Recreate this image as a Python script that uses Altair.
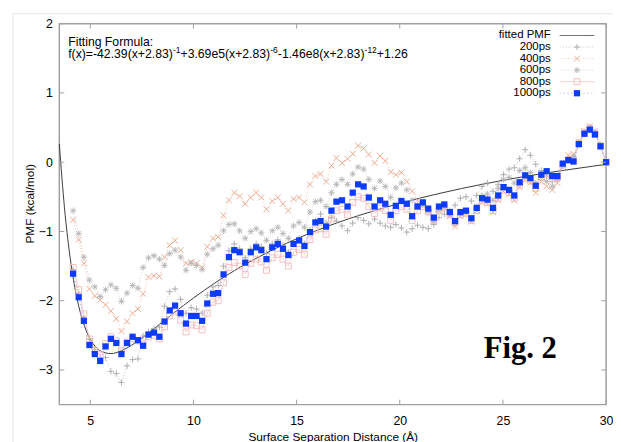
import altair as alt
import pandas as pd

# ---------------- data ----------------
distance = [4.17, 4.44, 4.69, 4.96, 5.22, 5.48, 5.74, 6.00, 6.26, 6.51,
            6.78, 7.05, 7.31, 7.56, 7.82, 8.09, 8.35, 8.60, 8.85, 9.11,
            9.38, 9.64, 9.89, 10.15, 10.42, 10.67, 10.95, 11.20, 11.46, 11.72,
            11.98, 12.24, 12.51, 12.78, 13.04, 13.29, 13.54, 13.82, 14.09, 14.34,
            14.60, 14.85, 15.12, 15.38, 15.65, 15.91, 16.16, 16.43, 16.69, 16.93,
            17.20, 17.47, 17.72, 17.98, 18.25, 18.50, 18.78, 19.05, 19.30, 19.56,
            19.81, 20.08, 20.34, 20.60, 20.86, 21.12, 21.38, 21.65, 21.90, 22.16,
            22.43, 22.68, 22.94, 23.21, 23.47, 23.73, 23.99, 24.25, 24.52, 24.77,
            25.03, 25.30, 25.55, 25.81, 26.08, 26.33, 26.59, 26.86, 27.12, 27.39,
            27.64, 27.90, 28.17, 28.42, 28.68, 28.95, 29.21, 29.46, 29.73, 30.00]

pmf_200 = [-1.55, -1.90, -2.25, -2.55, -2.70, -2.82, -2.82, -3.02, -3.05, -3.18,
           -2.94, -2.85, -2.84, -2.51, -2.45, -2.40, -2.38, -2.08, -1.87, -1.83,
           -1.98, -2.18, -2.10, -2.12, -2.18, -1.92, -1.80, -1.78, -1.50, -1.28,
           -1.18, -1.25, -1.38, -1.25, -1.18, -1.22, -1.32, -1.18, -1.12, -1.20,
           -1.30, -1.15, -1.10, -1.18, -0.98, -0.85, -0.75, -0.88, -0.80, -0.85,
           -0.92, -0.99, -0.88, -0.80, -0.84, -0.89, -0.82, -0.88, -0.92, -0.94,
           -0.90, -0.95, -1.01, -0.96, -0.91, -0.94, -0.96, -0.90, -0.80, -0.75,
           -0.70, -0.62, -0.52, -0.50, -0.56, -0.48, -0.35, -0.30, -0.42, -0.32,
           -0.18, -0.10, -0.08, 0.05, 0.18, 0.10, -0.03, -0.12, -0.20, -0.28,
           -0.22, -0.05, 0.04, 0.06, 0.28, 0.43, 0.50, 0.44, 0.25, 0.00]

pmf_400 = [-0.83, -1.12, -1.46, -1.83, -1.93, -1.99, -2.06, -2.15, -2.26, -2.44,
           -2.30, -2.18, -2.12, -1.90, -1.66, -1.64, -1.65, -1.37, -1.20, -1.13,
           -1.27, -1.46, -1.44, -1.46, -1.52, -1.22, -1.10, -1.08, -0.77, -0.55,
           -0.44, -0.49, -0.60, -0.51, -0.44, -0.51, -0.68, -0.56, -0.51, -0.60,
           -0.70, -0.53, -0.51, -0.58, -0.32, -0.20, -0.17, -0.28, -0.05, 0.06,
           -0.01, 0.05, 0.12, 0.24, 0.20, 0.11, -0.01, 0.09, 0.02, -0.14,
           -0.18, -0.15, -0.28, -0.42, -0.55, -0.62, -0.70, -0.84, -0.68, -0.66,
           -0.78, -0.93, -0.78, -0.75, -0.86, -0.70, -0.58, -0.60, -0.72, -0.55,
           -0.42, -0.46, -0.55, -0.36, -0.25, -0.30, -0.44, -0.28, -0.35, -0.40,
           -0.30, -0.05, 0.10, 0.12, 0.30, 0.45, 0.52, 0.45, 0.25, 0.00]

pmf_600 = [-0.70, -1.03, -1.37, -1.70, -1.80, -1.94, -1.84, -1.77, -1.82, -2.01,
           -1.89, -1.78, -1.82, -1.52, -1.38, -1.35, -1.40, -1.49, -1.32, -1.27,
           -1.37, -1.56, -1.46, -1.49, -1.55, -1.33, -1.25, -1.20, -0.99, -0.90,
           -0.89, -0.99, -1.10, -1.00, -0.96, -1.02, -1.13, -0.99, -0.94, -1.03,
           -1.10, -0.92, -0.87, -0.94, -0.72, -0.57, -0.55, -0.64, -0.44, -0.32,
           -0.25, -0.32, -0.17, -0.07, -0.10, -0.25, -0.38, -0.27, -0.35, -0.51,
           -0.37, -0.30, -0.40, -0.55, -0.62, -0.62, -0.72, -0.85, -0.70, -0.66,
           -0.76, -0.88, -0.74, -0.70, -0.80, -0.64, -0.48, -0.46, -0.55, -0.38,
           -0.25, -0.22, -0.30, -0.12, -0.08, -0.15, -0.30, -0.22, -0.28, -0.35,
           -0.25, -0.05, 0.06, 0.08, 0.28, 0.44, 0.50, 0.43, 0.24, 0.00]

pmf_800 = [-1.52, -1.84, -2.19, -2.55, -2.72, -2.78, -2.62, -2.52, -2.58, -2.72,
           -2.60, -2.55, -2.58, -2.62, -2.52, -2.50, -2.55, -2.38, -2.22, -2.16,
           -2.28, -2.45, -2.35, -2.36, -2.42, -2.18, -2.02, -2.00, -1.74, -1.52,
           -1.45, -1.50, -1.62, -1.46, -1.40, -1.44, -1.56, -1.38, -1.33, -1.40,
           -1.50, -1.30, -1.26, -1.33, -1.12, -0.98, -0.96, -1.04, -0.82, -0.70,
           -0.68, -0.76, -0.58, -0.50, -0.52, -0.64, -0.74, -0.66, -0.70, -0.84,
           -0.70, -0.64, -0.68, -0.84, -0.70, -0.64, -0.72, -0.84, -0.70, -0.66,
           -0.76, -0.88, -0.76, -0.74, -0.84, -0.70, -0.56, -0.58, -0.70, -0.52,
           -0.40, -0.44, -0.52, -0.33, -0.23, -0.27, -0.38, -0.22, -0.17, -0.24,
           -0.22, -0.04, 0.03, 0.02, 0.27, 0.43, 0.49, 0.41, 0.23, 0.00]

pmf_1000 = [-1.61, -1.95, -2.29, -2.64, -2.77, -2.87, -2.66, -2.55, -2.61, -2.77,
            -2.61, -2.52, -2.57, -2.65, -2.49, -2.46, -2.52, -2.30, -2.14, -2.07,
            -2.18, -2.33, -2.22, -2.22, -2.29, -2.04, -1.90, -1.89, -1.62, -1.37,
            -1.27, -1.30, -1.45, -1.30, -1.23, -1.27, -1.40, -1.23, -1.18, -1.25,
            -1.34, -1.18, -1.13, -1.21, -1.01, -0.87, -0.85, -0.93, -0.70, -0.57,
            -0.55, -0.64, -0.44, -0.32, -0.35, -0.51, -0.64, -0.55, -0.60, -0.76,
            -0.63, -0.56, -0.60, -0.78, -0.64, -0.58, -0.67, -0.80, -0.64, -0.61,
            -0.72, -0.85, -0.72, -0.70, -0.81, -0.66, -0.52, -0.54, -0.66, -0.48,
            -0.36, -0.40, -0.48, -0.29, -0.19, -0.23, -0.34, -0.18, -0.13, -0.20,
            -0.20, -0.02, 0.03, 0.01, 0.26, 0.41, 0.47, 0.40, 0.23, 0.00]

fit_x = [3.5, 3.75, 4.0, 4.25, 4.5, 4.75, 5.0, 5.25, 5.5, 6.0, 6.5, 7.0, 8.0, 9.0,
         10.0, 11.0, 12.0, 14.0, 16.0, 18.0, 20.0, 22.0, 24.0, 26.0, 28.0, 30.0]
fit_y = [0.264, -0.658, -1.325, -1.806, -2.150, -2.391, -2.556, -2.662, -2.726, -2.763,
         -2.724, -2.643, -2.425, -2.188, -1.961, -1.752, -1.563, -1.243, -0.983, -0.771,
         -0.594, -0.446, -0.319, -0.209, -0.115, -0.031]

x_ticks = [5, 10, 15, 20, 25, 30]
y_ticks = [-3, -2, -1, 0, 1, 2]
legend_labels = ["fitted PMF", "200ps", "400ps", "600ps", "800ps", "1000ps"]
# formula pieces: (text, is_superscript)
formula_parts = [("f(x)=-42.39(x+2.83)", False), ("-1", True),
                 ("+3.69e5(x+2.83)", False), ("-6", True),
                 ("-1.46e8(x+2.83)", False), ("-12", True), ("+1.26", False)]

# ---------------- styling ----------------
W, H = 554, 386
FONT = "Liberation Sans"
BORDER = "#a0a0a0"
xs = alt.Scale(domain=[3.5, 30], nice=False, zero=False)
ys = alt.Scale(domain=[-3.5, 2], nice=False, zero=False)

PLUS = "M-1,0L1,0M0,-1L0,1"
CROSS = "M-1,-1L1,1M-1,1L1,-1"
STAR = "M-1,0L1,0M0,-1L0,1M-0.75,-0.75L0.75,0.75M-0.75,0.75L0.75,-0.75"

series = [
    ("200ps", pmf_200, "#a8a8a8", PLUS, False, 40, [1, 2], 0.8),
    ("400ps", pmf_400, "#eba488", CROSS, False, 36, [1, 2], 0.8),
    ("600ps", pmf_600, "#b4b4b4", STAR, False, 40, [1, 2], 0.8),
    ("800ps", pmf_800, "#f2b9b9", "square", False, 36, [1, 0], 0.9),
    ("1000ps", pmf_1000, "#0d3cff", "square", True, 40, [1, 3], 0.5),
]

x_axis = alt.Axis(values=x_ticks, title="Surface Separation Distance (Å)", grid=False,
                  domain=False, ticks=False, labelPadding=10, labelFontSize=12.5,
                  labelFont=FONT, labelColor="#000", titleFont=FONT, titleFontSize=12,
                  titleFontWeight="normal", titleColor="#000", titlePadding=5,
                  labelFlush=False)
y_axis = alt.Axis(values=y_ticks, title="PMF (kcal/mol)", grid=False, domain=False,
                  ticks=False, labelPadding=7, labelFontSize=12.5, labelFont=FONT,
                  labelColor="#000", titleFont=FONT, titleFontSize=12,
                  titleFontWeight="normal", titleColor="#000", titleX=-23, titleY=182,
                  labelFlush=False)


def X(field):
    return alt.X(field, scale=xs, axis=x_axis)


def Y(field):
    return alt.Y(field, scale=ys, axis=y_axis)


fit_df = pd.DataFrame({"x": fit_x, "y": fit_y})
fit = alt.Chart(fit_df).mark_line(color="#3a3a3a", strokeWidth=1, interpolate="monotone").encode(
    x=X("x:Q"), y=Y("y:Q"))

layers = [fit]
for name, vals, col, shape, filled, size, dash, lop in series:
    df = pd.DataFrame({"x": distance, "y": vals})
    ln = alt.Chart(df).mark_line(color=col, strokeWidth=0.8, strokeDash=dash, opacity=lop).encode(
        x=X("x:Q"), y=Y("y:Q"))
    if filled:
        pt = alt.Chart(df).mark_point(shape=shape, filled=True, color=col, size=size, opacity=1).encode(
            x=X("x:Q"), y=Y("y:Q"))
    else:
        pt = alt.Chart(df).mark_point(shape=shape, filled=False, color=col, size=size,
                                      strokeWidth=0.9, opacity=1).encode(x=X("x:Q"), y=Y("y:Q"))
    layers += [ln, pt]

# border ticks (inward, gnuplot style)
xt_df = pd.DataFrame({"v": x_ticks})
yt_df = pd.DataFrame({"v": y_ticks})
tick_style = dict(color=BORDER, strokeWidth=1)
layers += [
    alt.Chart(xt_df).mark_rule(**tick_style).encode(x=X("v:Q"), y=alt.value(H), y2=alt.value(H - 5)),
    alt.Chart(xt_df).mark_rule(**tick_style).encode(x=X("v:Q"), y=alt.value(0), y2=alt.value(5)),
    alt.Chart(yt_df).mark_rule(**tick_style).encode(y=Y("v:Q"), x=alt.value(0), x2=alt.value(5)),
    alt.Chart(yt_df).mark_rule(**tick_style).encode(y=Y("v:Q"), x=alt.value(W - 5), x2=alt.value(W)),
]

# page frame lines
layers += [
    alt.Chart().mark_rule(color="#e2e2e2", strokeWidth=1).encode(x=alt.value(-47), y=alt.value(-10), y2=alt.value(H + 40)),
    alt.Chart().mark_rule(color="#e2e2e2", strokeWidth=1).encode(x=alt.value(-47), x2=alt.value(W + 10), y=alt.value(-10)),
]

# formula annotation (superscripts as separate, smaller, raised texts)
ARIAL_W = {"f": 278, "(": 333, ")": 333, "x": 500, "=": 584, "-": 333, "+": 584,
           ".": 278, "e": 556}
FS, FS_SUP = 12.4, 8.6


def text_width(s, fs):
    return sum(ARIAL_W.get(ch, 556) for ch in s) * fs / 1000.0


layers.append(alt.Chart().mark_text(text="Fitting Formula:", align="left", baseline="middle", font=FONT,
                                    fontSize=FS, color="#000").encode(x=alt.value(9), y=alt.value(19)))
cx = 9.0
for txt, sup in formula_parts:
    fs = FS_SUP if sup else FS
    layers.append(alt.Chart().mark_text(text=txt, align="left", baseline="middle", font=FONT,
                                        fontSize=fs, color="#000").encode(
        x=alt.value(cx), y=alt.value(26.5 if sup else 31)))
    cx += text_width(txt, fs)

layers.append(alt.Chart().mark_text(text="Fig. 2", align="center", baseline="middle", font="Liberation Serif",
                                    fontSize=31, fontWeight="bold", color="#000").encode(
    x=alt.value(467), y=alt.value(330)))

# legend (gnuplot style: label, then sample)
leg_styles = [("#3a3a3a", None, False, 0, [1, 0], 1.0)] + [(c, s, f, sz, d, o) for _, _, c, s, f, sz, d, o in series]
for i, (lab, sty) in enumerate(zip(legend_labels, leg_styles)):
    col, shape, filled, size, dash, lop = sty
    yy = 12 + 11.7 * i
    layers.append(alt.Chart().mark_text(text=lab, align="right", baseline="middle", font=FONT,
                                        fontSize=11.6, color="#000").encode(x=alt.value(498), y=alt.value(yy)))
    layers.append(alt.Chart().mark_rule(color=col, strokeWidth=0.9 if i == 0 else 0.8,
                                        strokeDash=dash, opacity=lop).encode(
        x=alt.value(507), x2=alt.value(542), y=alt.value(yy)))
    if shape is not None:
        if filled:
            layers.append(alt.Chart().mark_point(shape=shape, filled=True, color=col, size=size, opacity=1).encode(
                x=alt.value(524.5), y=alt.value(yy)))
        else:
            layers.append(alt.Chart().mark_point(shape=shape, filled=False, color=col, size=size,
                                                 strokeWidth=0.9, opacity=1).encode(
                x=alt.value(524.5), y=alt.value(yy)))

chart = alt.layer(*layers).properties(
    width=W, height=H,
    autosize=alt.AutoSizeParams(type="none"),
    padding={"left": 52, "top": 13, "right": 7, "bottom": 35},
    background="white",
).configure_view(stroke=BORDER, strokeWidth=1.5)

chart.save("out.html", embed_options={"renderer": "svg", "actions": False})
